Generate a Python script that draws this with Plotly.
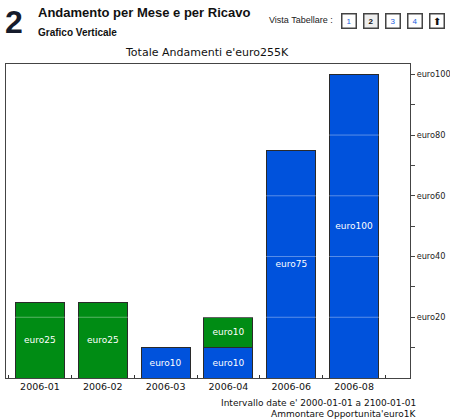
import plotly.graph_objects as go

categories = ["2006-01", "2006-02", "2006-03", "2006-04", "2006-06", "2006-08"]
blue_values = [None, None, 10, 10, 75, 100]
green_values = [25, 25, None, 10, None, None]
tick_values = [20, 40, 60, 80, 100]
tick_labels = ["euro20", "euro40", "euro60", "euro80", "euro100"]

BLUE = "#0052dc"
GREEN = "#008c14"
FONT = "DejaVu Sans"
HFONT = "Liberation Sans, Arial, sans-serif"

fig = go.Figure()
for vals, col in [(blue_values, BLUE), (green_values, GREEN)]:
    fig.add_trace(go.Bar(
        x=categories, y=vals,
        text=[("euro%d" % v) if v is not None else "" for v in vals],
        texttemplate="%{text}", textposition="inside", insidetextanchor="middle",
        marker=dict(color=col, line=dict(color="#2a2a2a", width=1)),
        textfont=dict(family=FONT, size=9, color="white"), textangle=0,
        hoverinfo="skip", showlegend=False,
    ))

shapes = []
for v in tick_values[:-1]:
    shapes.append(dict(type="line", xref="paper", x0=0, x1=1, yref="y", y0=v, y1=v,
                       line=dict(color="rgba(255,255,255,0.35)", width=1), layer="above"))

L, R, T, B = 6, 410, 64, 378

fig.update_layout(
    width=450, height=420,
    margin=dict(l=L, r=450 - R, t=T, b=420 - B, autoexpand=False),
    paper_bgcolor="white", plot_bgcolor="white",
    barmode="stack", bargap=0.22,
    xaxis=dict(type="category", range=[-0.54, 5.89], showgrid=False, automargin=False,
               ticks="inside", ticklen=3, tickson="boundaries", tickcolor="#333",
               showline=True, linecolor="#444", linewidth=1, mirror=True,
               tickfont=dict(family=FONT, size=9.5, color="#111"), fixedrange=True),
    yaxis=dict(side="right", range=[0, 103.4], tickvals=tick_values, ticktext=tick_labels,
               ticks="outside", ticklen=4, tickcolor="#444", showgrid=False, automargin=False,
               ticklabelstandoff=0,
               minor=dict(ticks="outside", ticklen=4, tickcolor="#444", dtick=20, tick0=10),
               showline=True, linecolor="#444", linewidth=1, mirror=True,
               tickfont=dict(family=FONT, size=8.2, color="#222"), fixedrange=True, zeroline=False),
    shapes=shapes,
)

annotations = []
def px(x):
    return (x - L) / (R - L)
def py(y):
    return (B - y) / (B - T)
def ann(text, x, y, size, color="#000", family=HFONT, xanchor="left", yanchor="middle", **kw):
    annotations.append(dict(text=text, x=px(x), y=py(y), xref="paper", yref="paper",
                            xanchor=xanchor, yanchor=yanchor, showarrow=False,
                            font=dict(family=family, size=size, color=color), **kw))

ann("<b>2</b>", 3, 22, 32, color="#151b2b")
ann("<b>Andamento per Mese e per Ricavo</b>", 36, 12, 13, color="#111")
ann("<b>Grafico Verticale</b>", 36, 32, 10, color="#111")
ann("Vista Tabellare :", 267, 20, 9, color="#222")
for lbl, x in zip(["1", "2", "3", "4", "⬆"], [349, 371, 393, 415, 437]):
    bold = lbl == "2"
    annotations.append(dict(
        text=("<b>%s</b>" % lbl) if bold else lbl, x=px(x), y=py(20.5), xref="paper", yref="paper",
        xanchor="center", yanchor="middle", showarrow=False, width=11, height=11,
        bordercolor="#444", borderwidth=1.5, borderpad=1,
        bgcolor="#eeeeee" if bold else "white",
        font=dict(family=HFONT, size=8 if lbl != "⬆" else 10,
                  color="#111" if (bold or lbl == "⬆") else "#1a5ee0")))
ann("Totale Andamenti e'euro255K", 207, 52, 11, color="#111", family=FONT, xanchor="center")
ann("Intervallo date e' 2000-01-01 a 2100-01-01", 418, 403, 9, color="#111", family=FONT, xanchor="right")
ann("Ammontare Opportunita'euro1K", 418, 414, 9, color="#111", family=FONT, xanchor="right")

fig.update_layout(annotations=annotations)
fig.write_html("out.html", config=dict(displayModeBar=False))
